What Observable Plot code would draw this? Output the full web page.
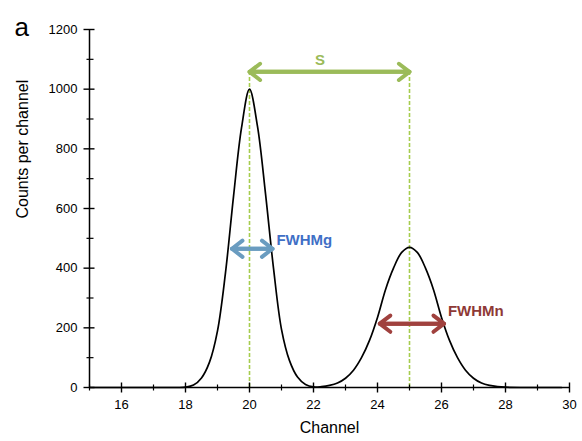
<!DOCTYPE html>
<html><head><meta charset="utf-8">
<script src="https://cdn.jsdelivr.net/npm/d3@7"></script>
<script src="https://cdn.jsdelivr.net/npm/@observablehq/plot@0.6"></script>
<style>body{margin:0;background:#fff}</style>
</head><body><div id="chart"></div>
<script>
// Spectrum
const channel = [15, 16, 17, 17.5, 17.75, 18, 18.25, 18.5, 18.75, 19, 19.25, 19.5, 19.75, 20, 20.25, 20.5, 20.75, 21, 21.25, 21.5, 21.75, 22, 22.25, 22.5, 22.75, 23, 23.25, 23.5, 23.75, 24, 24.25, 24.5, 24.75, 25, 25.25, 25.5, 25.75, 26, 26.25, 26.5, 26.75, 27, 27.25, 27.5, 27.75, 28, 28.5, 29, 29.75];
const counts  = [0, 0, 0, 0, 0, 1, 8, 32, 85, 190, 385, 640, 870, 1000, 875, 650, 400, 195, 90, 35, 10, 2, 3, 7, 15, 31, 58, 100, 158, 235, 328, 400, 452, 470, 452, 400, 328, 235, 158, 100, 58, 31, 15, 7, 3, 1, 0, 0, 0];

// Axis ticks
const xMajor = [16, 18, 20, 22, 24, 26, 28, 30];
const xMinor = [15, 17, 19, 21, 23, 25, 27, 29];
const yMajor = [0, 200, 400, 600, 800, 1000, 1200];
const yMinor = [100, 300, 500, 700, 900, 1100];

// Annotations
const peakChannels = [20, 25];
const sLevel = 1058;
const sArrow = [{x1: 20, x2: 25, y: 1058}];
const sLabel = [{x: 22.2, y: 1097, text: "S"}];
const gArrow = [{x1: 19.45, x2: 20.72, y: 465}];
const gLabel = [{x: 20.84, y: 493, text: "FWHMg"}];
const nArrow = [{x1: 24.07, x2: 26.08, y: 214}];
const nLabel = [{x: 26.2, y: 255, text: "FWHMn"}];

const data = channel.map((c, i) => ({c, n: counts[i]}));

const vTick = (a, b) => ({draw(ctx) { ctx.moveTo(0, -a); ctx.lineTo(0, b); }});
const hTick = (a, b) => ({draw(ctx) { ctx.moveTo(-a, 0); ctx.lineTo(b, 0); }});

function dbl(arr, color, sw, hl) {
  return [
    Plot.arrow(arr, {x1: "x1", x2: "x2", y1: "y", y2: "y", stroke: color, strokeWidth: sw, headLength: hl, headAngle: 75, strokeLinecap: "round", strokeLinejoin: "round"}),
    Plot.arrow(arr, {x1: "x2", x2: "x1", y1: "y", y2: "y", stroke: color, strokeWidth: sw, headLength: hl, headAngle: 75, strokeLinecap: "round", strokeLinejoin: "round"})
  ];
}

const font = "'Liberation Sans', Arial, Helvetica, sans-serif";
const green = "#9bbb59";

const chart = Plot.plot({
  width: 582, height: 441,
  marginLeft: 89, marginRight: 13, marginTop: 29, marginBottom: 54,
  x: {domain: [15, 30]},
  y: {domain: [0, 1200]},
  style: {fontFamily: font, fontSize: "13px", color: "#000", background: "#fff", overflow: "visible"},
  marks: [
    Plot.ruleX(peakChannels, {x: d => d, y1: () => 0, y2: () => sLevel, stroke: "#a6cc4e", strokeWidth: 1.6, strokeDasharray: "4,2"}),
    Plot.line(data, {x: "c", y: "n", curve: "catmull-rom", stroke: "#000", strokeWidth: 1.7}),
    Plot.ruleY([0], {stroke: "#000", strokeWidth: 1.5}),
    Plot.ruleX([15], {stroke: "#000", strokeWidth: 1.5}),
    Plot.dot(xMajor, {x: d => d, y: () => 0, symbol: vTick(5, 5), stroke: "#000", strokeWidth: 1.4, fill: "none"}),
    Plot.dot(xMinor, {x: d => d, y: () => 0, symbol: vTick(3, 3), stroke: "#000", strokeWidth: 1.2, fill: "none"}),
    Plot.dot(yMajor, {x: () => 15, y: d => d, symbol: hTick(6, 5), stroke: "#000", strokeWidth: 1.4, fill: "none"}),
    Plot.dot(yMinor, {x: () => 15, y: d => d, symbol: hTick(3, 4), stroke: "#000", strokeWidth: 1.2, fill: "none"}),
    Plot.axisX({ticks: xMajor, tickSize: 0, tickPadding: 12, label: null, fontSize: 13, tickFormat: d3.format("d")}),
    Plot.axisY({ticks: yMajor, tickSize: 0, tickPadding: 12, label: null, fontSize: 13, tickFormat: d3.format("d")}),
    ...dbl(sArrow, green, 4, 5),
    ...dbl(gArrow, "#6a9cc0", 4, 5),
    ...dbl(nArrow, "#a0413e", 4, 5),
    Plot.text(sLabel, {x: "x", y: "y", text: "text", fill: green, fontWeight: "bold", fontSize: 15}),
    Plot.text(gLabel, {x: "x", y: "y", text: "text", fill: "#3f6fc6", fontWeight: "bold", fontSize: 15, textAnchor: "start"}),
    Plot.text(nLabel, {x: "x", y: "y", text: "text", fill: "#8e3936", fontWeight: "bold", fontSize: 15, textAnchor: "start"}),
    Plot.text(["Channel"], {frameAnchor: "bottom", dy: 45, fontSize: 16}),
    Plot.text(["Counts per channel"], {frameAnchor: "left", dx: -67, dy: 10, rotate: -90, fontSize: 16}),
    Plot.text(["a"], {frameAnchor: "top-left", dx: -75, dy: -12, textAnchor: "start", fontSize: 26})
  ]
});
document.getElementById("chart").appendChild(chart);
</script>
</body></html>
